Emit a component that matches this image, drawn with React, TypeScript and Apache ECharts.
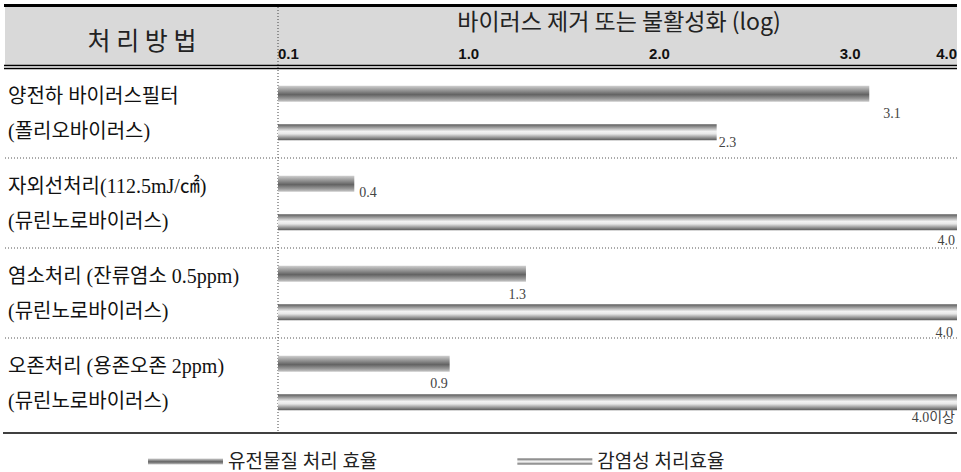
import React, { useEffect, useRef } from "react";
import * as echarts from "echarts";

// ---------- data ----------
const categories = [
  "양전하 바이러스필터\n(폴리오바이러스)",
  "자외선처리(112.5mJ/㎠)\n(뮤린노로바이러스)",
  "염소처리 (잔류염소 0.5ppm)\n(뮤린노로바이러스)",
  "오존처리 (용존오존 2ppm)\n(뮤린노로바이러스)",
];
const seriesNames = ["유전물질 처리 효율", "감염성 처리효율"];
const geneticValues = [3.1, 0.4, 1.3, 0.9];
const infectiveValues = [2.3, 4.0, 4.0, 4.0];
const geneticLabels = ["3.1", "0.4", "1.3", "0.9"];
const infectiveLabels = ["2.3", "4.0", "4.0", "4.0이상"];
const axisMax = 3.56;
const tickValues = [0, 1, 2, 3, axisMax];
const tickLabels = ["0.1", "1.0", "2.0", "3.0", "4.0"];
const headerLeft = "처 리 방 법";
const headerRight = "바이러스 제거 또는 불활성화 (log)";

// ---------- layout / style ----------
const W = 961;
const H = 472;
const GRID = { left: 278, right: 4, top: 68, bottom: 44 };
const SERIF = "'Liberation Serif', 'Noto Sans CJK KR', serif";
const SANS = "'Noto Sans CJK KR', 'Liberation Sans', sans-serif";

const geneticPlacement = [
  { align: "left", offset: [14, 5] },
  { align: "left", offset: [5, -6] },
  { align: "right", offset: [0, 6] },
  { align: "right", offset: [-2, 5] },
];
const infectivePlacement = [
  { align: "left", offset: [2, -5] },
  { align: "right", offset: [-2, 3] },
  { align: "right", offset: [-4, 5] },
  { align: "right", offset: [-2, 0] },
];

const geneticGradient = {
  type: "linear",
  x: 0,
  y: 0,
  x2: 0,
  y2: 1,
  colorStops: [
    { offset: 0, color: "#cfcfcf" },
    { offset: 0.25, color: "#9c9c9c" },
    { offset: 0.55, color: "#636363" },
    { offset: 0.8, color: "#969696" },
    { offset: 1, color: "#cacaca" },
  ],
};
const infectiveGradient = {
  type: "linear",
  x: 0,
  y: 0,
  x2: 0,
  y2: 1,
  colorStops: [
    { offset: 0, color: "#5a5a5a" },
    { offset: 0.2, color: "#9c9c9c" },
    { offset: 0.45, color: "#f2f2f2" },
    { offset: 0.6, color: "#e8e8e8" },
    { offset: 0.85, color: "#8e8e8e" },
    { offset: 1, color: "#5a5a5a" },
  ],
};

function buildData(values: number[], texts: string[], placement: any[]) {
  return values.map((v, i) => ({
    value: v,
    label: {
      show: true,
      position: ["100%", "100%"],
      verticalAlign: "top",
      align: placement[i].align,
      offset: placement[i].offset,
      formatter: () => texts[i],
    },
  }));
}

export default function App() {
  const ref = useRef<HTMLDivElement>(null);

  useEffect(() => {
    if (!ref.current) return;
    const chart = echarts.init(ref.current, undefined, { renderer: "svg" });
    const bandH = (H - GRID.top - GRID.bottom) / categories.length;
    const separators = [1, 2, 3].map((i) => ({
      type: "line",
      silent: true,
      shape: { x1: 5, y1: GRID.top + i * bandH, x2: W - GRID.right, y2: GRID.top + i * bandH },
      style: { stroke: "#555", lineWidth: 1, lineDash: [1, 2] },
    }));

    chart.setOption({
      animation: false,
      backgroundColor: "#ffffff",
      grid: { ...GRID, containLabel: false },
      xAxis: {
        type: "value",
        position: "top",
        min: 0,
        max: axisMax,
        interval: 1,
        axisLine: { show: false },
        axisTick: { show: false },
        splitLine: { show: false },
        axisLabel: {
          show: true,
          margin: 7,
          fontSize: 15,
          fontWeight: "bold",
          fontFamily: "'Liberation Sans', Arial, sans-serif",
          color: "#111",
          showMinLabel: true,
          showMaxLabel: true,
          alignMinLabel: "left",
          alignMaxLabel: "right",
          formatter: (v: number) => {
            const idx = tickValues.findIndex((t) => Math.abs(t - v) < 1e-6);
            return idx >= 0 ? tickLabels[idx] : "";
          },
        },
      },
      yAxis: {
        type: "category",
        inverse: true,
        data: categories,
        axisLine: { show: false },
        axisTick: { show: false },
        splitLine: { show: false },
        axisLabel: {
          align: "left",
          margin: 270,
          fontSize: 20,
          lineHeight: 35,
          color: "#111",
          fontFamily: SERIF,
        },
      },
      legend: {
        left: 143,
        top: 447,
        icon: "rect",
        itemWidth: 75,
        itemHeight: 6,
        itemGap: 140,
        textStyle: { fontSize: 19, color: "#222", fontFamily: SERIF },
        data: seriesNames,
      },
      series: [
        {
          name: seriesNames[0],
          type: "bar",
          barWidth: 16,
          barGap: "140%",
          itemStyle: { color: geneticGradient },
          label: { fontSize: 14, color: "#444", fontFamily: SERIF },
          data: buildData(geneticValues, geneticLabels, geneticPlacement),
        },
        {
          name: seriesNames[1],
          type: "bar",
          barWidth: 16,
          barGap: "140%",
          itemStyle: { color: infectiveGradient },
          label: { fontSize: 14, color: "#444", fontFamily: SERIF },
          data: buildData(infectiveValues, infectiveLabels, infectivePlacement),
        },
      ],
      graphic: [
        {
          type: "rect",
          silent: true,
          z: -10,
          shape: { x: 5, y: 7, width: W - GRID.right - 5, height: 58 },
          style: { fill: "#d9d9d9" },
        },
        {
          type: "line",
          silent: true,
          shape: { x1: 4, y1: 5.5, x2: W - GRID.right, y2: 5.5 },
          style: { stroke: "#000", lineWidth: 3 },
        },
        {
          type: "line",
          silent: true,
          shape: { x1: 4, y1: 65.5, x2: W - GRID.right, y2: 65.5 },
          style: { stroke: "#000", lineWidth: 1.3 },
        },
        {
          type: "line",
          silent: true,
          shape: { x1: 4, y1: 68.5, x2: W - GRID.right, y2: 68.5 },
          style: { stroke: "#000", lineWidth: 1.3 },
        },
        {
          type: "line",
          silent: true,
          shape: { x1: GRID.left, y1: 7, x2: GRID.left, y2: 433 },
          style: { stroke: "#444", lineWidth: 1, lineDash: [1, 2] },
        },
        ...separators,
        {
          type: "line",
          silent: true,
          shape: { x1: 3, y1: 433, x2: W - GRID.right, y2: 433 },
          style: { stroke: "#000", lineWidth: 1.5 },
        },
        {
          type: "text",
          silent: true,
          x: 142,
          y: 39,
          style: {
            text: headerLeft,
            fontSize: 25,
            fontFamily: SANS,
            fill: "#222",
            align: "center",
            verticalAlign: "middle",
          },
        },
        {
          type: "text",
          silent: true,
          x: 619,
          y: 20,
          style: {
            text: headerRight,
            fontSize: 23,
            fontFamily: SANS,
            fill: "#222",
            align: "center",
            verticalAlign: "middle",
          },
        },
      ],
    });
    return () => chart.dispose();
  }, []);

  return (
    <div
      ref={ref}
      style={{ position: "fixed", left: 0, top: 0, width: W, height: H, background: "#fff" }}
    />
  );
}
